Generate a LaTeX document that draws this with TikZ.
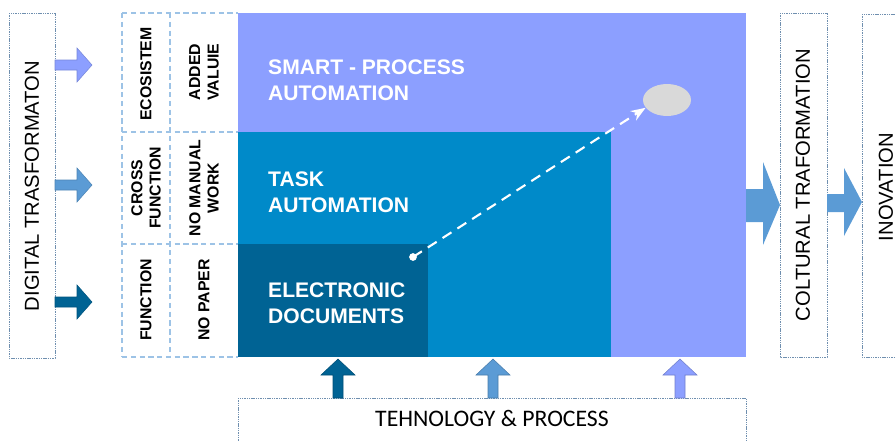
\documentclass[tikz,border=0pt]{standalone}
\usepackage{fontspec}
\setmainfont{Liberation Sans}
\newfontfamily\calibri{Carlito}
\usetikzlibrary{arrows.meta,shapes.geometric}

\definecolor{lightlev}{HTML}{8C9FFF}
\definecolor{midlev}{HTML}{008AC9}
\definecolor{darklev}{HTML}{006394}
\definecolor{arrowblue}{HTML}{5B9BD5}
\definecolor{gridblue}{HTML}{9DC3E6}
\definecolor{boxline}{HTML}{6F8FAF}

\tikzset{
  dotbox/.style={draw=boxline, line width=0.5pt, dash pattern=on 0.8pt off 0.5pt},
  gridline/.style={draw=gridblue, line width=0.8pt, dash pattern=on 3pt off 2pt},
  vlabel/.style={rotate=90, font=\fontsize{11.5}{13}\selectfont},
  celllabel/.style={rotate=90, align=center, font=\bfseries\fontsize{9}{10.4}\selectfont},
  levellabel/.style={anchor=west, align=left, text=white,
    font=\bfseries\fontsize{12}{14.7}\selectfont}
}

\begin{document}
\begin{tikzpicture}[x=0.02cm,y=-0.02cm,>=Stealth]
 \useasboundingbox (0,0) rectangle (896,440);

 % the three levels
 \fill[lightlev] (238,13) rectangle (746,357);
 \fill[midlev] (238,132) rectangle (611,357);
 \fill[darklev] (238,244) rectangle (428,357);

 \node[levellabel] (smart) at (262,80) {SMART - PROCESS\\AUTOMATION};
 \node[levellabel] (task) at (262,192) {TASK\\AUTOMATION};
 \node[levellabel] (edoc) at (262,303) {ELECTRONIC\\DOCUMENTS};

 % path from documents to smart process
 \node[fill=gray!30, ellipse, minimum width=0.96cm, minimum height=0.64cm, inner sep=0pt] (goal) at (667,100) {};
 \coordinate (start) at (413,257);
 \fill[white] (start) circle(2.2pt);
 \draw[white, line width=1.2pt, dash pattern=on 6pt off 4pt, ->] (start) -- (goal.-160);

 % grid on the left of the levels
 \draw[gridline] (122,13) -- (238,13) (122,132) -- (238,132)
       (122,244) -- (238,244) (122,357) -- (238,357);
 \draw[gridline] (122,13) -- (122,357) (170,13) -- (170,357);

 \node[celllabel] (eco) at (146,74) {ECOSISTEM};
 \node[celllabel] (cross) at (146,188) {CROSS\\FUNCTION};
 \node[celllabel] (func) at (146,300) {FUNCTION};
 \node[celllabel] (added) at (204,72) {ADDED\\VALUIE};
 \node[celllabel] (manual) at (204,188) {NO MANUAL\\WORK};
 \node[celllabel] (paper) at (204,300) {NO PAPER};

 % boxes round the picture
 \draw[dotbox] (9,13) rectangle (55,358);
 \node[vlabel] (digital) at (32,186) {DIGITAL TRASFORMATON};
 \draw[dotbox] (780,13) rectangle (827,357);
 \node[vlabel] (coltural) at (803,185) {COLTURAL TRAFORMATION};
 \draw[dotbox] (862,14) rectangle (910,357);
 \node[vlabel] (inov) at (886,187) {INOVATION};
 \draw[dotbox] (238,398) rectangle (746,450);
 \node[font=\calibri\fontsize{13.5}{16}\selectfont] (tech) at (492,418) {TEHNOLOGY \& PROCESS};

 % arrows into the levels
 \foreach \y/\c in {65/lightlev, 185/arrowblue, 302/darklev}
   \filldraw[fill=\c, draw=\c!85!black, line width=0.3pt] (55,\y-5) -- (77,\y-5) -- (77,\y-17) -- (92,\y)
        -- (77,\y+17) -- (77,\y+5) -- (55,\y+5) -- cycle;

 \foreach \x/\c in {338/darklev, 493/arrowblue, 680/lightlev}
   \filldraw[fill=\c, draw=\c!80!black, line width=0.3pt] (\x-5,398) -- (\x-5,375) -- (\x-17,375)
        -- (\x,359) -- (\x+17,375) -- (\x+5,375) -- (\x+5,398) -- cycle;

 % arrows to the right
 \fill[arrowblue] (746,189) -- (763,189) -- (763,162) -- (780,205) -- (763,245)
      -- (763,222) -- (746,222) -- cycle;
 \fill[arrowblue] (827,194) -- (844,194) -- (844,168) -- (862,202) -- (844,236)
      -- (844,212) -- (827,212) -- cycle;
\end{tikzpicture}
\end{document}
